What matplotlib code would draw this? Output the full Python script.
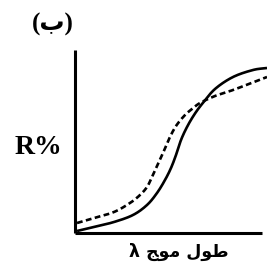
import matplotlib
matplotlib.use("Agg")
import matplotlib.pyplot as plt
import numpy as np

W, H = 267, 266
fig = plt.figure(figsize=(W/100, H/100), dpi=100)

# data (wavelength offsets, reflectance offsets)
solid_x = [2, 19, 39, 58, 72, 82, 90, 96, 101, 106, 112, 119, 127, 140, 158, 178, 192]
solid_y = [2, 6, 11, 18, 28, 40, 53, 65, 78, 93, 106, 118, 129, 144, 156, 163, 165]
dash_x = [2, 19, 39, 55, 65, 72, 77, 82, 88, 94, 101, 110, 117, 125, 140, 158, 192]
dash_y = [10, 15, 21, 30, 38, 46, 56, 67, 80, 94, 107, 118, 124, 130, 137, 143, 156]

x0, y0 = 75, 233
x1, y1 = 262, 50
ax = fig.add_axes([x0/W, (H-y0)/H, (x1-x0)/W, (y0-y1)/H])
ax.set_xlim(0, x1-x0)
ax.set_ylim(0, y0-y1)
for s in ["top", "right"]:
    ax.spines[s].set_visible(False)
for s in ["left", "bottom"]:
    ax.spines[s].set_linewidth(2.2)
    ax.spines[s].set_capstyle("butt")
ax.set_xticks([])
ax.set_yticks([])
ax.patch.set_alpha(0)


def catmull(xs, ys, n=20):
    p = np.column_stack([xs, ys]).astype(float)
    p = np.vstack([2*p[0]-p[1], p, 2*p[-1]-p[-2]])
    out = []
    for i in range(1, len(p)-2):
        P0, P1, P2, P3 = p[i-1], p[i], p[i+1], p[i+2]
        t = np.linspace(0, 1, n, endpoint=False)[:, None]
        seg = 0.5*((2*P1) + (-P0+P2)*t + (2*P0-5*P1+4*P2-P3)*t**2
                   + (-P0+3*P1-3*P2+P3)*t**3)
        out.append(seg)
    out.append(p[-2][None, :])
    c = np.vstack(out)
    return c[:, 0], c[:, 1]


tx, ty = catmull(solid_x, solid_y)
ax.plot(tx, ty, color="black", lw=1.9, clip_on=False, solid_capstyle="butt")
tx, ty = catmull(dash_x, dash_y)
ax.plot(tx, ty, color="black", lw=1.9, clip_on=False, dashes=(2.2, 1.3))

fig.text(53/W, 1-24/H, "(\uFE8F)", ha="center", va="center",
         fontsize=18, fontweight="bold", family=["Liberation Serif", "DejaVu Sans"])
fig.text(38/W, 1-147/H, "R%", ha="center", va="center",
         fontsize=20, fontweight="bold", family=["Liberation Serif"])
fig.text(179/W, 1-252/H, "λ \uFE9E\uFEEE\uFEE3 \uFEDD\uFEEE\uFEC3",
         ha="center", va="center", fontsize=12.5, fontweight="bold",
         family=["DejaVu Sans"])

fig.savefig("out.png", dpi=100)
